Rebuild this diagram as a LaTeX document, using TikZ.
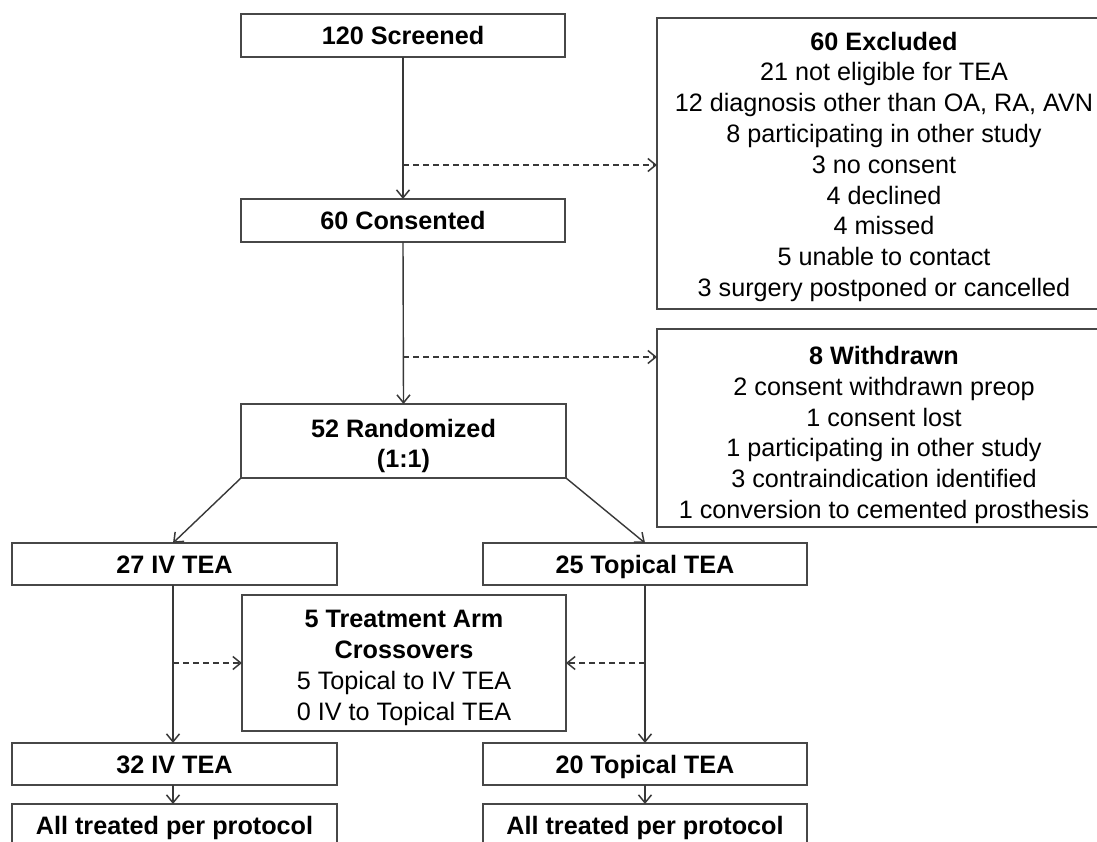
\documentclass[tikz,border=0pt]{standalone}
\usepackage{fontspec}
\setmainfont{Liberation Sans}
\usetikzlibrary{arrows.meta}
\begin{document}
\begin{tikzpicture}[x=1pt,y=1pt,
  every node/.style={font=\fontsize{25.2}{30.8}\selectfont, text=black},
  box/.style={draw=black!72, line width=1.6pt, inner sep=0pt, outer sep=0pt, align=center},
  sbox/.style={box, text height=18pt, text depth=0pt},
  conn/.style={draw=black!78, line width=1.4pt, -{Straight Barb[length=8pt,width=13pt,line width=1.5pt]}},
  dconn/.style={conn, dash pattern=on 6pt off 4pt}
]
\clip (0,0) rectangle (1097,-842);
\fill[white] (0,0) rectangle (1097,-842);

\node[sbox, minimum width=324pt, minimum height=43pt] (scr) at (403,-35.5) {\textbf{120 Screened}};
\node[sbox, minimum width=324pt, minimum height=43pt] (con) at (403,-220.5) {\textbf{60 Consented}};
\node[box, minimum width=454pt, minimum height=291pt, text height=266pt, text depth=0pt] (excl) at (884,-163.5)
  {\textbf{60 Excluded}\\21 not eligible for TEA\\12 diagnosis other than OA, RA, AVN\\8 participating in other study\\3 no consent\\4 declined\\4 missed\\5 unable to contact\\3 surgery postponed or cancelled};
\node[box, minimum width=325pt, minimum height=74pt, text height=53.8pt, text depth=0pt] (rand) at (403.5,-441) {\textbf{52 Randomized}\\\textbf{(1:1)}};
\node[box, minimum width=454pt, minimum height=198pt, text height=181pt, text depth=0pt] (wd) at (884,-428)
  {\textbf{8 Withdrawn}\\2 consent withdrawn preop\\1 consent lost\\1 participating in other study\\3 contraindication identified\\1 conversion to cemented prosthesis};
\node[sbox, minimum width=325pt, minimum height=42pt] (iv1) at (174.5,-564) {\textbf{27 IV TEA}};
\node[sbox, minimum width=324pt, minimum height=42pt] (top1) at (645,-564) {\textbf{25 Topical TEA}};
\node[box, minimum width=324pt, minimum height=136pt, text height=114.4pt, text depth=0pt] (cross) at (404,-663)
  {\textbf{5 Treatment Arm}\\\textbf{Crossovers}\\5 Topical to IV TEA\\0 IV to Topical TEA};
\node[sbox, minimum width=325pt, minimum height=42pt] (iv2) at (174.5,-764) {\textbf{32 IV TEA}};
\node[sbox, minimum width=324pt, minimum height=42pt] (top2) at (645,-764) {\textbf{20 Topical TEA}};
\node[sbox, minimum width=325pt, minimum height=43pt] (iv3) at (174.5,-825.5) {\textbf{All treated per protocol}};
\node[sbox, minimum width=324pt, minimum height=43pt] (top3) at (645,-825.5) {\textbf{All treated per protocol}};

\coordinate (d1) at (403,-165);
\coordinate (d2) at (403,-357);
\coordinate (d3) at (173,-663);
\coordinate (d4) at (645,-663);

\draw[conn] (scr.south) -- (con.north);
\draw[dconn] (d1) -- (d1 -| excl.west);
\draw[conn] (con.south) -- (rand.north);
\draw[dconn] (d2) -- (d2 -| wd.west);
\draw[conn] (rand.south west) -- ([xshift=-1.5pt]iv1.north);
\draw[conn] (rand.south east) -- (top1.north);
\draw[conn] ([xshift=-1.5pt]iv1.south) -- ([xshift=-1.5pt]iv2.north);
\draw[dconn] (d3) -- (d3 -| cross.west);
\draw[conn] (top1.south) -- (top2.north);
\draw[dconn] (d4) -- (d4 -| cross.east);
\draw[conn] ([xshift=-1.5pt]iv2.south) -- ([xshift=-1.5pt]iv3.north);
\draw[conn] (top2.south) -- (top3.north);
\end{tikzpicture}
\end{document}
